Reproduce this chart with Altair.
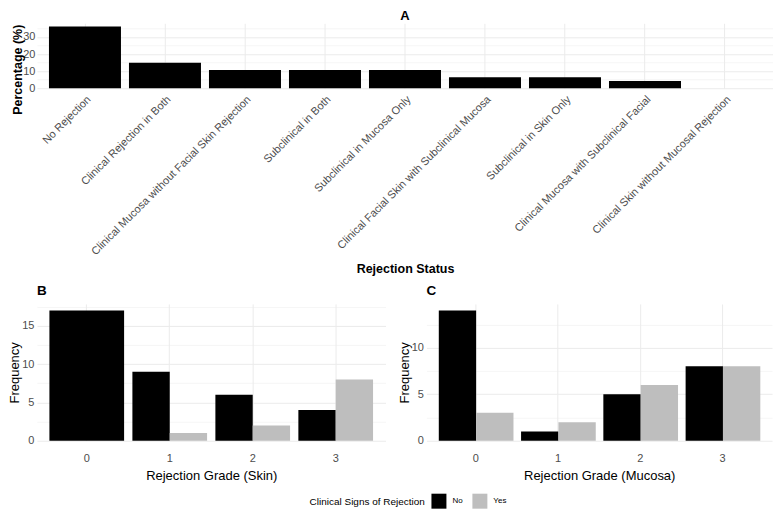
import altair as alt
import pandas as pd

# ---- data ----
status_labels = [
    "No Rejection",
    "Clinical Rejection in Both",
    "Clinical Mucosa without Facial Skin Rejection",
    "Subclinical in Both",
    "Subclinical in Mucosa Only",
    "Clinical Facial Skin with Subclinical Mucosa",
    "Subclinical in Skin Only",
    "Clinical Mucosa with Subclinical Facial",
    "Clinical Skin without Mucosal Rejection",
]
status_pct = [36.2, 14.9, 10.6, 10.6, 10.6, 6.4, 6.4, 4.3, 0.0]

skin_grade = ["0", "1", "1", "2", "2", "3", "3"]
skin_sign = ["No", "No", "Yes", "No", "Yes", "No", "Yes"]
skin_freq = [17, 9, 1, 6, 2, 4, 8]

muc_grade = ["0", "0", "1", "1", "2", "2", "3", "3"]
muc_sign = ["No", "Yes", "No", "Yes", "No", "Yes", "No", "Yes"]
muc_freq = [14, 3, 1, 2, 5, 6, 8, 8]

sign_levels = ["No", "Yes"]
sign_colors = ["#000000", "#BEBEBE"]

FONT = "Liberation Sans"
GRID = "#EBEBEB"
LABEL = "#4D4D4D"


def grid_width(major):
    return {"condition": {"test": f"datum.value % {major} == 0", "value": 1.0}, "value": 0.5}


def hide_minor(major):
    return f"datum.value % {major} == 0 ? datum.label : ''"


# ---- panel A ----
dfA = pd.DataFrame({"status": status_labels, "pct": status_pct})
A = alt.Chart(dfA).mark_bar(color="black").encode(
    x=alt.X(
        "status:N",
        sort=status_labels,
        scale=alt.Scale(paddingInner=0.1, paddingOuter=0.15),
        axis=alt.Axis(
            title="Rejection Status", labelAngle=-45, ticks=False, domain=False,
            bandPosition=0.5, grid=True, gridColor=GRID, gridWidth=1,
            labelFontSize=11, labelColor=LABEL, labelPadding=5, labelLimit=400,
            titleFontSize=12.5, titleFontWeight="bold", titleColor="black", titlePadding=6,
        ),
    ),
    y=alt.Y(
        "pct:Q",
        scale=alt.Scale(domain=[0, 38], nice=False),
        axis=alt.Axis(
            title="Percentage (%)", values=[0, 5, 10, 15, 20, 25, 30, 35],
            labelExpr=hide_minor(10), ticks=False, domain=False,
            gridColor=GRID, gridWidth=grid_width(10),
            labelFontSize=11, labelColor=LABEL, labelPadding=2,
            titleFontSize=12.5, titleFontWeight="bold", titleColor="black", titlePadding=-2,
            titleY=46,
        ),
    ),
).properties(
    width=737, height=65,
    title=alt.TitleParams("A", anchor="middle", fontSize=13, fontWeight="bold", offset=0),
)


# ---- panels B, C ----
def grade_panel(grades, signs, freqs, tag, xtitle, ymax, yvals, width):
    df = pd.DataFrame({"grade": grades, "sign": signs, "freq": freqs})
    df["n"] = df.groupby("grade")["sign"].transform("count")
    base = alt.Chart(df).encode(
        x=alt.X(
            "grade:N",
            scale=alt.Scale(paddingInner=0.1, paddingOuter=0.15),
            axis=alt.Axis(
                title=xtitle, labelAngle=0, ticks=False, domain=False,
                bandPosition=0.5, grid=True, gridColor=GRID, gridWidth=1,
                labelFontSize=11, labelColor=LABEL, labelPadding=12,
                titleFontSize=13, titleFontWeight="normal", titleColor="black", titlePadding=6,
            ),
        ),
        y=alt.Y(
            "freq:Q",
            scale=alt.Scale(domain=[0, ymax], nice=False),
            axis=alt.Axis(
                title="Frequency", values=yvals, labelExpr=hide_minor(5),
                ticks=False, domain=False, gridColor=GRID, gridWidth=grid_width(5),
                labelFontSize=11, labelColor=LABEL, labelPadding=3,
                titleFontSize=13, titleFontWeight="normal", titleColor="black", titlePadding=0,
            ),
        ),
        color=alt.Color(
            "sign:N",
            scale=alt.Scale(domain=sign_levels, range=sign_colors),
            legend=alt.Legend(
                title="Clinical Signs of Rejection", orient="none", direction="horizontal",
                legendX=273, legendY=471,
                titleOrient="left", titleBaseline="middle",
                symbolType="square", symbolSize=225, symbolStrokeWidth=0,
                labelFontSize=8, titleFontSize=10, titleFontWeight="normal", titleColor="black",
                labelColor="black", columnPadding=9, labelOffset=6, titlePadding=6,
            ),
        ),
    )
    single = base.transform_filter("datum.n == 1").mark_bar()
    dodge = base.transform_filter("datum.n == 2").mark_bar().encode(
        xOffset=alt.XOffset("sign:N", sort=sign_levels,
                            scale=alt.Scale(paddingInner=0, paddingOuter=0))
    )
    return alt.layer(single, dodge).properties(
        width=width, height=137,
        title=alt.TitleParams(tag, anchor="start", frame="group", fontSize=13.5,
                              fontWeight="bold", offset=6),
    )


B = grade_panel(skin_grade, skin_sign, skin_freq, "B", "Rejection Grade (Skin)",
                17.85, [0, 2.5, 5, 7.5, 10, 12.5, 15, 17.5], 349)
C = grade_panel(muc_grade, muc_sign, muc_freq, "C", "Rejection Grade (Mucosa)",
                14.7, [0, 2.5, 5, 7.5, 10, 12.5], 346)

chart = alt.vconcat(
    A,
    alt.hconcat(B, C, spacing=12),
    spacing=8,
).configure(
    font=FONT, padding={"left": 0, "top": 2, "right": 0, "bottom": 0}
).configure_view(stroke=None)

chart.save("out.html", embed_options={"renderer": "svg", "actions": False})
